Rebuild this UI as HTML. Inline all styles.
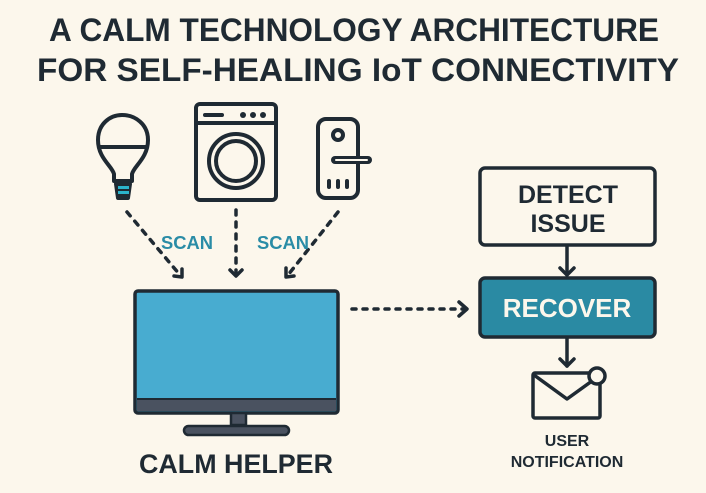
<!DOCTYPE html>
<html><head><meta charset="utf-8"><style>
html,body{margin:0;padding:0;background:#fcf7ec;}
svg{display:block}
text{font-family:"Liberation Sans",sans-serif;font-weight:bold;}
</style></head><body>
<svg width="706" height="493" viewBox="0 0 706 493" xmlns="http://www.w3.org/2000/svg">
<rect width="706" height="493" fill="#fcf7ec"/>
<g fill="#1f2a33" text-anchor="middle">
<text x="354" y="41" font-size="32" textLength="610" lengthAdjust="spacingAndGlyphs">A CALM TECHNOLOGY ARCHITECTURE</text>
<text x="358" y="81" font-size="32" textLength="642" lengthAdjust="spacingAndGlyphs">FOR SELF-HEALING IoT CONNECTIVITY</text>
</g>
<g fill="none" stroke="#1f2a33" stroke-width="4" stroke-linecap="round" stroke-linejoin="round">
<!-- bulb -->
<path d="M114 181 L114 174 C112 166 98 158 98 140 C98 124 110 115 122 115 C135 115 148 124 148 140 C148 158 134 166 132 174 L132 181 Z"/>
<line x1="99" y1="147" x2="147" y2="147"/>
<path d="M116 184 L130 184 L128 198 L118 198 Z" fill="#1f2a33"/>
<!-- washer -->
<rect x="196" y="104" width="80" height="96" rx="4"/>
<line x1="196" y1="123" x2="276" y2="123"/>
<line x1="205" y1="115" x2="222" y2="115"/>
<circle cx="236" cy="161" r="27"/><circle cx="236" cy="161" r="20"/>
<!-- lock -->
<rect x="318" y="119" width="40" height="79" rx="8"/>
<circle cx="338" cy="135" r="5"/>
<path d="M335 160 L368 160" stroke-width="8"/>
<line x1="329" y1="181" x2="329" y2="187"/><line x1="338" y1="181" x2="338" y2="187"/><line x1="347" y1="181" x2="347" y2="187"/>
</g>
<path d="M336 160 L367 160" stroke="#fcf7ec" stroke-width="2" stroke-linecap="round"/>
<g fill="#1f2a33"><circle cx="243" cy="115" r="3"/><circle cx="253" cy="115" r="3"/><circle cx="263" cy="115" r="3"/></g>
<rect x="118" y="186" width="11" height="3" fill="#2bb4cc"/><rect x="118" y="191" width="11" height="3" fill="#2bb4cc"/>
<!-- scan arrows -->
<g fill="none" stroke="#1f2a33" stroke-width="3.5" stroke-linecap="round" stroke-linejoin="round">
<path d="M127 212 L180 275" stroke-dasharray="5 7"/>
<path d="M174 276 L182 277 L182 269"/>
<path d="M236 210 L236 275" stroke-dasharray="5 7"/>
<path d="M230 270 L236 276 L242 270"/>
<path d="M338 212 L288 275" stroke-dasharray="5 7"/>
<path d="M286 268 L286 277 L294 276"/>
<path d="M352 309 L465 309" stroke-dasharray="4 7"/>
<path d="M459 302 L467 309 L459 316"/>
</g>
<g fill="#2a8ca6" font-size="18" text-anchor="middle">
<text x="187" y="249" textLength="52" lengthAdjust="spacingAndGlyphs">SCAN</text><text x="283" y="249" textLength="52" lengthAdjust="spacingAndGlyphs">SCAN</text>
</g>
<!-- monitor -->
<rect x="135" y="291" width="203" height="122" rx="3" fill="#48acd0" stroke="#1f2a33" stroke-width="3.5"/>
<rect x="137" y="399" width="199" height="12" fill="#4a5260"/>
<line x1="137" y1="399" x2="336" y2="399" stroke="#1f2a33" stroke-width="2"/>
<rect x="231" y="413" width="15" height="12" fill="#4a5260" stroke="#1f2a33" stroke-width="2.5"/>
<rect x="184" y="426" width="105" height="9" rx="4.5" fill="#4a5260" stroke="#1f2a33" stroke-width="2.5"/>
<text x="236" y="473" font-size="27" fill="#1f2a33" text-anchor="middle" textLength="194" lengthAdjust="spacingAndGlyphs">CALM HELPER</text>
<!-- right flow -->
<rect x="480" y="168" width="175" height="77" rx="5" fill="#fcf7ec" stroke="#1f2a33" stroke-width="3.5"/>
<g fill="#1f2a33" font-size="25" text-anchor="middle"><text x="568" y="203">DETECT</text><text x="568" y="232">ISSUE</text></g>
<g fill="none" stroke="#1f2a33" stroke-width="3.5" stroke-linecap="round" stroke-linejoin="round">
<line x1="567" y1="246" x2="567" y2="275"/><path d="M560 268 L567 275 L574 268"/>
<line x1="567" y1="338" x2="567" y2="366"/><path d="M560 359 L567 366 L574 359"/>
</g>
<rect x="480" y="278" width="175" height="59" rx="5" fill="#2a8aa3" stroke="#1f2a33" stroke-width="3.5"/>
<text x="567" y="317" font-size="26" fill="#fcf7ec" text-anchor="middle">RECOVER</text>
<g fill="none" stroke="#1f2a33" stroke-width="3.5" stroke-linejoin="round">
<rect x="533" y="373" width="67" height="45" rx="2"/>
<path d="M534 375 L567 399 L592 381"/>
</g>
<circle cx="597" cy="376" r="8" fill="#fcf7ec" stroke="#1f2a33" stroke-width="3.5"/>
<g fill="#1f2a33" font-size="16" text-anchor="middle"><text x="567" y="446">USER</text><text x="567" y="467">NOTIFICATION</text></g>
</svg>
</body></html>
